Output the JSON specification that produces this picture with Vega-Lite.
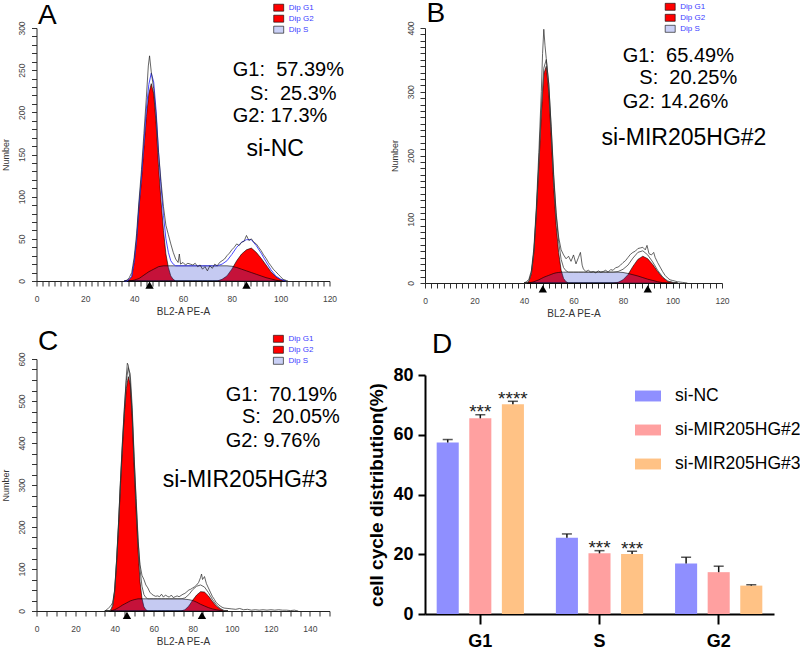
{
 "$schema": "https://vega.github.io/schema/vega-lite/v6.json",
 "padding": {"left": 1.5, "top": 0, "right": 0, "bottom": 0},
 "config": {"font": "Liberation Sans", "view": {"stroke": null}, "axis": {"grid": false}},
 "datasets": {
  "A": [
   {"v":36,"G1":0,"S":0,"G2":0,"fit":0},{"v":37,"G1":0,"S":0,"G2":0,"fit":0},{"v":38,"G1":2,"S":0,"G2":0,"fit":2},{"v":39,"G1":5,"S":0.5,"G2":0,"fit":5.5},{"v":40,"G1":22,"S":1,"G2":0,"fit":23},{"v":41,"G1":48,"S":2,"G2":0,"fit":50},{"v":42,"G1":88,"S":3,"G2":0,"fit":91},{"v":43,"G1":120,"S":5,"G2":0,"fit":125},{"v":44,"G1":158,"S":7,"G2":0,"fit":165},{"v":45,"G1":195,"S":9,"G2":0,"fit":204},{"v":46,"G1":222,"S":11,"G2":0,"fit":233},{"v":47,"G1":234,"S":12.5,"G2":0,"fit":246.5},{"v":48,"G1":222,"S":14,"G2":0,"fit":236},{"v":49,"G1":186,"S":15.5,"G2":0,"fit":201.5},{"v":50,"G1":135,"S":17,"G2":0,"fit":152},{"v":51,"G1":95,"S":17.5,"G2":0,"fit":112.5},{"v":52,"G1":60,"S":18,"G2":0,"fit":78},{"v":53,"G1":32,"S":18,"G2":0,"fit":50},{"v":54,"G1":16,"S":18,"G2":0,"fit":34},{"v":55,"G1":6,"S":18,"G2":0,"fit":24},{"v":56,"G1":2,"S":18,"G2":0,"fit":20},{"v":57,"G1":0,"S":18,"G2":0,"fit":18},{"v":58,"G1":0,"S":18,"G2":0,"fit":18},{"v":60,"G1":0,"S":18,"G2":0,"fit":18},{"v":62,"G1":0,"S":18,"G2":0,"fit":18},{"v":64,"G1":0,"S":18,"G2":0,"fit":18},{"v":66,"G1":0,"S":18,"G2":0,"fit":18},{"v":68,"G1":0,"S":18,"G2":0,"fit":18},{"v":70,"G1":0,"S":18,"G2":0,"fit":18},{"v":72,"G1":0,"S":18,"G2":0,"fit":18},{"v":74,"G1":0,"S":18,"G2":0,"fit":18},{"v":76,"G1":0,"S":18,"G2":2,"fit":20},{"v":78,"G1":0,"S":18,"G2":6,"fit":24},{"v":80,"G1":0,"S":17.5,"G2":14,"fit":31.5},{"v":82,"G1":0,"S":16,"G2":24,"fit":40},{"v":84,"G1":0,"S":14,"G2":32,"fit":46},{"v":86,"G1":0,"S":12,"G2":37,"fit":49},{"v":88,"G1":0,"S":10,"G2":39,"fit":49},{"v":90,"G1":0,"S":8,"G2":34,"fit":42},{"v":92,"G1":0,"S":6,"G2":27,"fit":33},{"v":94,"G1":0,"S":4,"G2":19,"fit":23},{"v":96,"G1":0,"S":2.5,"G2":11,"fit":13.5},{"v":98,"G1":0,"S":1,"G2":5,"fit":6},{"v":100,"G1":0,"S":0,"G2":2,"fit":2},{"v":102,"G1":0,"S":0,"G2":0,"fit":0}
  ],
  "A_raw": [
   {"v":36,"n":0},{"v":37,"n":1},{"v":38,"n":4},{"v":39,"n":10},{"v":40,"n":28},{"v":41,"n":56},{"v":42,"n":96},{"v":43,"n":132},{"v":44,"n":175},{"v":45,"n":218},{"v":45.8,"n":255},{"v":46.3,"n":267},{"v":47,"n":248},{"v":48,"n":228},{"v":49,"n":196},{"v":50,"n":152},{"v":51,"n":118},{"v":52,"n":88},{"v":53,"n":66},{"v":54,"n":55},{"v":55,"n":44},{"v":56,"n":34},{"v":57,"n":26},{"v":58,"n":22},{"v":58.5,"n":32},{"v":59,"n":20},{"v":60,"n":22},{"v":61,"n":19},{"v":62,"n":21},{"v":63,"n":20},{"v":64,"n":19},{"v":65,"n":21},{"v":66,"n":17},{"v":67,"n":19},{"v":68,"n":14},{"v":69,"n":17},{"v":70,"n":12},{"v":71,"n":18},{"v":72,"n":15},{"v":73,"n":20},{"v":74,"n":18},{"v":75,"n":22},{"v":76,"n":24},{"v":77,"n":26},{"v":78,"n":30},{"v":79,"n":33},{"v":80,"n":37},{"v":81,"n":40},{"v":82,"n":44},{"v":83,"n":42},{"v":84,"n":46},{"v":85,"n":47},{"v":86,"n":54},{"v":87,"n":48},{"v":88,"n":50},{"v":89,"n":46},{"v":90,"n":44},{"v":91,"n":40},{"v":92,"n":36},{"v":93,"n":31},{"v":94,"n":27},{"v":95,"n":22},{"v":96,"n":18},{"v":97,"n":14},{"v":98,"n":11},{"v":99,"n":8},{"v":100,"n":5},{"v":101,"n":2},{"v":102,"n":1},{"v":103,"n":0}
  ],
  "A_tri": [{"v":46.3,"n":-5},{"v":86,"n":-5}],
  "A_txt": [
   {"v":80.4,"n":250,"t":"G1:\u00a0\u00a057.39%","kind":"pct"},
   {"v":87.4,"n":222.3,"t":"S:\u00a0\u00a025.3%","kind":"pct"},
   {"v":80.4,"n":195.3,"t":"G2: 17.3%","kind":"pct"},
   {"v":86,"n":156.5,"t":"si-NC","kind":"name"}
  ],
  "B": [
   {"v":40,"G1":0,"S":0,"G2":0,"fit":0},{"v":41,"G1":0,"S":0,"G2":0,"fit":0},{"v":42,"G1":3,"S":0,"G2":0,"fit":3},{"v":43,"G1":15,"S":1,"G2":0,"fit":16},{"v":44,"G1":48,"S":2,"G2":0,"fit":50},{"v":45,"G1":110,"S":3.5,"G2":0,"fit":113.5},{"v":46,"G1":184,"S":5,"G2":0,"fit":189},{"v":47,"G1":265,"S":7,"G2":0,"fit":272},{"v":48,"G1":328,"S":9,"G2":0,"fit":337},{"v":49,"G1":340,"S":10.5,"G2":0,"fit":350.5},{"v":50,"G1":300,"S":12,"G2":0,"fit":312},{"v":51,"G1":228,"S":13.5,"G2":0,"fit":241.5},{"v":52,"G1":150,"S":15,"G2":0,"fit":165},{"v":53,"G1":90,"S":16,"G2":0,"fit":106},{"v":54,"G1":48,"S":16.5,"G2":0,"fit":64.5},{"v":55,"G1":20,"S":17,"G2":0,"fit":37},{"v":56,"G1":7,"S":17,"G2":0,"fit":24},{"v":57,"G1":2,"S":17,"G2":0,"fit":19},{"v":58,"G1":0,"S":17,"G2":0,"fit":17},{"v":60,"G1":0,"S":17,"G2":0,"fit":17},{"v":62,"G1":0,"S":17,"G2":0,"fit":17},{"v":64,"G1":0,"S":17,"G2":0,"fit":17},{"v":66,"G1":0,"S":17,"G2":0,"fit":17},{"v":68,"G1":0,"S":17,"G2":0,"fit":17},{"v":70,"G1":0,"S":17,"G2":0,"fit":17},{"v":72,"G1":0,"S":17,"G2":0,"fit":17},{"v":74,"G1":0,"S":17,"G2":0,"fit":17},{"v":76,"G1":0,"S":17,"G2":0,"fit":17},{"v":78,"G1":0,"S":17,"G2":1,"fit":18},{"v":80,"G1":0,"S":16.5,"G2":5,"fit":21.5},{"v":82,"G1":0,"S":15,"G2":13,"fit":28},{"v":84,"G1":0,"S":13,"G2":26,"fit":39},{"v":86,"G1":0,"S":11,"G2":37,"fit":48},{"v":88,"G1":0,"S":8.5,"G2":42,"fit":50.5},{"v":90,"G1":0,"S":6,"G2":38,"fit":44},{"v":92,"G1":0,"S":4,"G2":29,"fit":33},{"v":94,"G1":0,"S":2,"G2":18,"fit":20},{"v":96,"G1":0,"S":0.5,"G2":9,"fit":9.5},{"v":98,"G1":0,"S":0,"G2":3,"fit":3},{"v":100,"G1":0,"S":0,"G2":1,"fit":1},{"v":102,"G1":0,"S":0,"G2":0,"fit":0}
  ],
  "B_raw": [
   {"v":40,"n":0},{"v":41,"n":2},{"v":42,"n":6},{"v":43,"n":20},{"v":44,"n":55},{"v":45,"n":120},{"v":46,"n":205},{"v":47,"n":300},{"v":47.5,"n":360},{"v":48,"n":398},{"v":48.5,"n":372},{"v":49,"n":352},{"v":50,"n":312},{"v":51,"n":245},{"v":52,"n":170},{"v":53,"n":110},{"v":54,"n":72},{"v":55,"n":52},{"v":56,"n":44},{"v":57,"n":38},{"v":58,"n":42},{"v":59,"n":34},{"v":60,"n":44},{"v":61,"n":30},{"v":62,"n":40},{"v":62.8,"n":48},{"v":63.5,"n":28},{"v":64,"n":22},{"v":65,"n":18},{"v":66,"n":20},{"v":67,"n":17},{"v":68,"n":18},{"v":69,"n":16},{"v":70,"n":19},{"v":71,"n":17},{"v":72,"n":18},{"v":73,"n":20},{"v":74,"n":17},{"v":75,"n":21},{"v":76,"n":20},{"v":77,"n":24},{"v":78,"n":25},{"v":79,"n":28},{"v":80,"n":32},{"v":81,"n":35},{"v":82,"n":40},{"v":83,"n":45},{"v":84,"n":48},{"v":85,"n":50},{"v":86,"n":54},{"v":87,"n":55},{"v":88,"n":56},{"v":89,"n":52},{"v":89.7,"n":59},{"v":90.5,"n":46},{"v":91.5,"n":44},{"v":92.4,"n":48},{"v":93,"n":40},{"v":94,"n":32},{"v":95,"n":25},{"v":96,"n":18},{"v":97,"n":12},{"v":98,"n":8},{"v":99,"n":5},{"v":100,"n":4},{"v":101,"n":3},{"v":102,"n":2},{"v":104,"n":1},{"v":106,"n":0}
  ],
  "B_tri": [{"v":47.6,"n":-9.4},{"v":90,"n":-9.4}],
  "B_txt": [
   {"v":79.9,"n":356,"t":"G1:\u00a0\u00a065.49%","kind":"pct"},
   {"v":86.6,"n":321.6,"t":"S:\u00a0\u00a020.25%","kind":"pct"},
   {"v":79.9,"n":283.6,"t":"G2: 14.26%","kind":"pct"},
   {"v":71.3,"n":227,"t":"si-MIR205HG#2","kind":"name"}
  ],
  "C": [
   {"v":35,"G1":0,"S":0,"G2":0,"fit":0},{"v":36,"G1":0,"S":0,"G2":0,"fit":0},{"v":37,"G1":0,"S":0,"G2":0,"fit":0},{"v":38,"G1":2,"S":0,"G2":0,"fit":2},{"v":39,"G1":12,"S":1.5,"G2":0,"fit":13.5},{"v":40,"G1":45,"S":3,"G2":0,"fit":48},{"v":41,"G1":115,"S":5.5,"G2":0,"fit":120.5},{"v":42,"G1":200,"S":8,"G2":0,"fit":208},{"v":43,"G1":300,"S":11,"G2":0,"fit":311},{"v":44,"G1":390,"S":14,"G2":0,"fit":404},{"v":45,"G1":470,"S":16.5,"G2":0,"fit":486.5},{"v":46,"G1":530,"S":19,"G2":0,"fit":549},{"v":47,"G1":558,"S":21.5,"G2":0,"fit":579.5},{"v":48,"G1":540,"S":24,"G2":0,"fit":564},{"v":49,"G1":460,"S":25.5,"G2":0,"fit":485.5},{"v":50,"G1":340,"S":27,"G2":0,"fit":367},{"v":51,"G1":240,"S":28,"G2":0,"fit":268},{"v":52,"G1":145,"S":29,"G2":0,"fit":174},{"v":53,"G1":70,"S":29,"G2":0,"fit":99},{"v":54,"G1":30,"S":29,"G2":0,"fit":59},{"v":55,"G1":10,"S":29,"G2":0,"fit":39},{"v":56,"G1":3,"S":29,"G2":0,"fit":32},{"v":57,"G1":0,"S":29,"G2":0,"fit":29},{"v":58,"G1":0,"S":29,"G2":0,"fit":29},{"v":60,"G1":0,"S":29,"G2":0,"fit":29},{"v":62,"G1":0,"S":29,"G2":0,"fit":29},{"v":64,"G1":0,"S":29,"G2":0,"fit":29},{"v":66,"G1":0,"S":29,"G2":0,"fit":29},{"v":68,"G1":0,"S":29,"G2":0,"fit":29},{"v":70,"G1":0,"S":29,"G2":0,"fit":29},{"v":72,"G1":0,"S":29,"G2":0,"fit":29},{"v":74,"G1":0,"S":29,"G2":0,"fit":29},{"v":76,"G1":0,"S":28,"G2":3,"fit":31},{"v":78,"G1":0,"S":27,"G2":12,"fit":39},{"v":80,"G1":0,"S":25,"G2":26,"fit":51},{"v":82,"G1":0,"S":21,"G2":38,"fit":59},{"v":84,"G1":0,"S":16,"G2":46,"fit":62},{"v":86,"G1":0,"S":12,"G2":45,"fit":57},{"v":88,"G1":0,"S":8,"G2":36,"fit":44},{"v":90,"G1":0,"S":5,"G2":23,"fit":28},{"v":92,"G1":0,"S":3,"G2":12,"fit":15},{"v":94,"G1":0,"S":1.5,"G2":5,"fit":6.5},{"v":96,"G1":0,"S":0,"G2":1,"fit":1},{"v":98,"G1":0,"S":0,"G2":0,"fit":0}
  ],
  "C_raw": [
   {"v":35,"n":0},{"v":36,"n":3},{"v":37,"n":8},{"v":38,"n":12},{"v":39,"n":20},{"v":40,"n":50},{"v":41,"n":120},{"v":42,"n":210},{"v":43,"n":310},{"v":44,"n":400},{"v":45,"n":480},{"v":46,"n":560},{"v":46.5,"n":590},{"v":47,"n":585},{"v":47.5,"n":565},{"v":48,"n":545},{"v":49,"n":470},{"v":50,"n":360},{"v":51,"n":260},{"v":52,"n":165},{"v":53,"n":110},{"v":54,"n":85},{"v":55,"n":75},{"v":56,"n":62},{"v":57,"n":55},{"v":58,"n":45},{"v":59,"n":40},{"v":60,"n":37},{"v":61,"n":35},{"v":62,"n":36},{"v":63,"n":34},{"v":64,"n":40},{"v":65,"n":33},{"v":66,"n":38},{"v":67,"n":35},{"v":68,"n":33},{"v":69,"n":38},{"v":70,"n":32},{"v":71,"n":34},{"v":72,"n":36},{"v":73,"n":34},{"v":74,"n":37},{"v":75,"n":40},{"v":76,"n":42},{"v":77,"n":46},{"v":78,"n":50},{"v":79,"n":52},{"v":80,"n":55},{"v":81,"n":58},{"v":82,"n":62},{"v":83,"n":68},{"v":84,"n":80},{"v":84.5,"n":88},{"v":85,"n":75},{"v":86,"n":82},{"v":87,"n":65},{"v":88,"n":55},{"v":89,"n":45},{"v":90,"n":35},{"v":91,"n":28},{"v":92,"n":20},{"v":93,"n":16},{"v":94,"n":12},{"v":95,"n":9},{"v":96,"n":7},{"v":98,"n":6},{"v":100,"n":5},{"v":102,"n":4},{"v":104,"n":6},{"v":106,"n":3},{"v":108,"n":4},{"v":110,"n":2},{"v":112,"n":3},{"v":114,"n":2},{"v":116,"n":3},{"v":118,"n":2},{"v":120,"n":3},{"v":122,"n":2},{"v":124,"n":3},{"v":126,"n":2},{"v":128,"n":2},{"v":130,"n":1},{"v":132,"n":2},{"v":134,"n":0}
  ],
  "C_tri": [{"v":46.3,"n":-10.5},{"v":84.7,"n":-10.5}],
  "C_txt": [
   {"v":96.9,"n":514.9,"t":"G1:\u00a0\u00a070.19%","kind":"pct"},
   {"v":105.2,"n":461.9,"t":"S:\u00a0\u00a020.05%","kind":"pct"},
   {"v":96.9,"n":405.9,"t":"G2: 9.76%","kind":"pct"},
   {"v":64.6,"n":312.8,"t":"si-MIR205HG#3","kind":"name"}
  ],
  "D": [
   {"phase":"G1","group":"si-NC","value":57.4,"err":58.4,"sig":""},
   {"phase":"G1","group":"si-MIR205HG#2","value":65.5,"err":66.7,"sig":"***"},
   {"phase":"G1","group":"si-MIR205HG#3","value":70.2,"err":71.2,"sig":"****"},
   {"phase":"S","group":"si-NC","value":25.5,"err":26.8,"sig":""},
   {"phase":"S","group":"si-MIR205HG#2","value":20.3,"err":21.2,"sig":"***"},
   {"phase":"S","group":"si-MIR205HG#3","value":20.1,"err":21.0,"sig":"***"},
   {"phase":"G2","group":"si-NC","value":16.9,"err":19.0,"sig":""},
   {"phase":"G2","group":"si-MIR205HG#2","value":14.0,"err":16.0,"sig":""},
   {"phase":"G2","group":"si-MIR205HG#3","value":9.5,"err":9.8,"sig":""}
  ]
 },
 "columns": 2,
 "spacing": {"row": 76, "column": 95.5},
 "bounds": "flush",
 "resolve": {"scale": {"color": "independent"}, "legend": {"color": "independent"}},
 "concat": [
    {
     "width": 293, "height": 253,
     "title": {"text": "A", "anchor": "start", "frame": "group", "fontSize": 28, "fontWeight": "normal", "color": "#000", "offset": -27.6, "dx": 1.5},
     "encoding": {
      "x": {"field": "v", "type": "quantitative", "title": "BL2-A PE-A", "scale": {"domain": [0, 120], "nice": false},
       "axis": {"values": [0,2.5,5,7.5,10,12.5,15,17.5,20,22.5,25,27.5,30,32.5,35,37.5,40,42.5,45,47.5,50,52.5,55,57.5,60,62.5,65,67.5,70,72.5,75,77.5,80,82.5,85,87.5,90,92.5,95,97.5,100,102.5,105,107.5,110,112.5,115,117.5,120], "labelExpr": "datum.value % 20 === 0 ? datum.label : ''", "labelOverlap": false, "labelFlush": false, "tickSize": 5, "tickColor": "#333", "domainColor": "#222", "labelFontSize": 8.5, "labelColor": "#444", "labelPadding": 8, "titleFontSize": 10, "titleFontWeight": "normal", "titleColor": "#333", "titlePadding": 4}},
      "y": {"field": "n", "type": "quantitative", "stack": null, "title": "Number", "scale": {"domain": [0, 300], "nice": false},
       "axis": {"values": [0,10,20,30,40,50,60,70,80,90,100,110,120,130,140,150,160,170,180,190,200,210,220,230,240,250,260,270,280,290,300], "labelExpr": "datum.value % 50 === 0 ? datum.label : ''", "labelOverlap": false, "labelFlush": false, "labelAngle": 270, "labelAlign": "center", "labelBaseline": "bottom", "tickSize": 5, "tickColor": "#333", "domainColor": "#222", "labelFontSize": 8.5, "labelColor": "#444", "labelPadding": 5, "titleFontSize": 9, "titleFontWeight": "normal", "titleColor": "#333", "titlePadding": 7}}
     },
     "layer": [
      {"data": {"name": "A"}, "transform": [{"fold": ["G1", "G2"], "as": ["c", "n"]}], "mark": {"type": "area", "stroke": "#000", "strokeWidth": 0.6},
       "encoding": {"color": {"field": "c", "type": "nominal", "scale": {"domain": ["G1", "G2", "S"], "range": ["#ff0000", "#ff0000", "#cad0f6"]},
        "legend": {"orient": "none", "legendX": 236.7, "legendY": -25.8, "title": null, "padding": 0, "symbolType": "M-1,-0.7H1V0.7H-1Z", "symbolSize": 100, "symbolStrokeColor": "#000", "symbolStrokeWidth": 0.6, "symbolOpacity": 1, "labelFontSize": 8, "labelColor": "#3c3cff", "labelOffset": 4.6, "rowPadding": -1, "labelExpr": "'Dip ' + datum.label"}}}},
      {"data": {"name": "A"}, "transform": [{"fold": ["S"], "as": ["c", "n"]}], "mark": {"type": "area", "color": "#2f3fd0", "opacity": 0.28}},
      {"data": {"name": "A"}, "transform": [{"fold": ["S"], "as": ["c", "n"]}], "mark": {"type": "line", "color": "#000", "strokeWidth": 0.6}},
      {"data": {"name": "A"}, "transform": [{"fold": ["fit"], "as": ["c", "n"]}], "mark": {"type": "line", "color": "#3535ff", "strokeWidth": 0.9}},
      {"data": {"name": "A_raw"}, "mark": {"type": "line", "color": "#222", "strokeWidth": 0.7}},
      {"data": {"name": "A_tri"}, "mark": {"type": "point", "shape": "triangle-up", "filled": true, "color": "#000", "size": 70, "opacity": 1}},
      {"data": {"name": "A_txt"}, "transform": [{"filter": "datum.kind === 'pct'"}], "mark": {"type": "text", "align": "left", "baseline": "middle", "fontSize": 20, "color": "#000"}, "encoding": {"text": {"field": "t"}}},
      {"data": {"name": "A_txt"}, "transform": [{"filter": "datum.kind === 'name'"}], "mark": {"type": "text", "align": "left", "baseline": "middle", "fontSize": 23, "color": "#000"}, "encoding": {"text": {"field": "t"}}}
     ]
    },
    {
     "width": 297, "height": 255,
     "title": {"text": "B", "anchor": "start", "frame": "group", "fontSize": 28, "fontWeight": "normal", "color": "#000", "offset": -26.8, "dx": 1.5},
     "encoding": {
      "x": {"field": "v", "type": "quantitative", "title": "BL2-A PE-A", "scale": {"domain": [0, 120], "nice": false},
       "axis": {"values": [0,2.5,5,7.5,10,12.5,15,17.5,20,22.5,25,27.5,30,32.5,35,37.5,40,42.5,45,47.5,50,52.5,55,57.5,60,62.5,65,67.5,70,72.5,75,77.5,80,82.5,85,87.5,90,92.5,95,97.5,100,102.5,105,107.5,110,112.5,115,117.5,120], "labelExpr": "datum.value % 20 === 0 ? datum.label : ''", "labelOverlap": false, "labelFlush": false, "tickSize": 5, "tickColor": "#333", "domainColor": "#222", "labelFontSize": 8.5, "labelColor": "#444", "labelPadding": 8, "titleFontSize": 10, "titleFontWeight": "normal", "titleColor": "#333", "titlePadding": 4}},
      "y": {"field": "n", "type": "quantitative", "stack": null, "title": "Number", "scale": {"domain": [0, 400], "nice": false},
       "axis": {"values": [0,10,20,30,40,50,60,70,80,90,100,110,120,130,140,150,160,170,180,190,200,210,220,230,240,250,260,270,280,290,300,310,320,330,340,350,360,370,380,390,400], "labelExpr": "datum.value % 100 === 0 ? datum.label : ''", "labelOverlap": false, "labelFlush": false, "labelAngle": 270, "labelAlign": "center", "labelBaseline": "bottom", "tickSize": 5, "tickColor": "#333", "domainColor": "#222", "labelFontSize": 8.5, "labelColor": "#444", "labelPadding": 5, "titleFontSize": 9, "titleFontWeight": "normal", "titleColor": "#333", "titlePadding": 7}}
     },
     "layer": [
      {"data": {"name": "B"}, "transform": [{"fold": ["G1", "G2"], "as": ["c", "n"]}], "mark": {"type": "area", "stroke": "#000", "strokeWidth": 0.6},
       "encoding": {"color": {"field": "c", "type": "nominal", "scale": {"domain": ["G1", "G2", "S"], "range": ["#ff0000", "#ff0000", "#cad0f6"]},
        "legend": {"orient": "none", "legendX": 239.7, "legendY": -26.7, "title": null, "padding": 0, "symbolType": "M-1,-0.7H1V0.7H-1Z", "symbolSize": 100, "symbolStrokeColor": "#000", "symbolStrokeWidth": 0.6, "symbolOpacity": 1, "labelFontSize": 8, "labelColor": "#3c3cff", "labelOffset": 4.6, "rowPadding": -1, "labelExpr": "'Dip ' + datum.label"}}}},
      {"data": {"name": "B"}, "transform": [{"fold": ["S"], "as": ["c", "n"]}], "mark": {"type": "area", "color": "#2f3fd0", "opacity": 0.28}},
      {"data": {"name": "B"}, "transform": [{"fold": ["S"], "as": ["c", "n"]}], "mark": {"type": "line", "color": "#000", "strokeWidth": 0.6}},
      {"data": {"name": "B"}, "transform": [{"fold": ["fit"], "as": ["c", "n"]}], "mark": {"type": "line", "color": "#555", "strokeWidth": 0.9}},
      {"data": {"name": "B_raw"}, "mark": {"type": "line", "color": "#222", "strokeWidth": 0.7}},
      {"data": {"name": "B_tri"}, "mark": {"type": "point", "shape": "triangle-up", "filled": true, "color": "#000", "size": 70, "opacity": 1}},
      {"data": {"name": "B_txt"}, "transform": [{"filter": "datum.kind === 'pct'"}], "mark": {"type": "text", "align": "left", "baseline": "middle", "fontSize": 20, "color": "#000"}, "encoding": {"text": {"field": "t"}}},
      {"data": {"name": "B_txt"}, "transform": [{"filter": "datum.kind === 'name'"}], "mark": {"type": "text", "align": "left", "baseline": "middle", "fontSize": 23, "color": "#000"}, "encoding": {"text": {"field": "t"}}}
     ]
    },
    {
     "width": 293, "height": 252,
     "title": {"text": "C", "anchor": "start", "frame": "group", "fontSize": 28, "fontWeight": "normal", "color": "#000", "offset": -22.8, "dx": 1.5},
     "encoding": {
      "x": {"field": "v", "type": "quantitative", "title": "BL2-A PE-A", "scale": {"domain": [0, 150], "nice": false},
       "axis": {"values": [0,5,10,15,20,25,30,35,40,45,50,55,60,65,70,75,80,85,90,95,100,105,110,115,120,125,130,135,140,145,150], "labelExpr": "datum.value % 20 === 0 ? datum.label : ''", "labelOverlap": false, "labelFlush": false, "tickSize": 5, "tickColor": "#333", "domainColor": "#222", "labelFontSize": 8.5, "labelColor": "#444", "labelPadding": 8, "titleFontSize": 10, "titleFontWeight": "normal", "titleColor": "#333", "titlePadding": 4}},
      "y": {"field": "n", "type": "quantitative", "stack": null, "title": "Number", "scale": {"domain": [0, 600], "nice": false},
       "axis": {"values": [0,25,50,75,100,125,150,175,200,225,250,275,300,325,350,375,400,425,450,475,500,525,550,575,600], "labelExpr": "datum.value % 100 === 0 ? datum.label : ''", "labelOverlap": false, "labelFlush": false, "labelAngle": 270, "labelAlign": "center", "labelBaseline": "bottom", "tickSize": 5, "tickColor": "#333", "domainColor": "#222", "labelFontSize": 8.5, "labelColor": "#444", "labelPadding": 5, "titleFontSize": 9, "titleFontWeight": "normal", "titleColor": "#333", "titlePadding": 7}}
     },
     "layer": [
      {"data": {"name": "C"}, "transform": [{"fold": ["G1", "G2"], "as": ["c", "n"]}], "mark": {"type": "area", "stroke": "#000", "strokeWidth": 0.6},
       "encoding": {"color": {"field": "c", "type": "nominal", "scale": {"domain": ["G1", "G2", "S"], "range": ["#ff0000", "#ff0000", "#cad0f6"]},
        "legend": {"orient": "none", "legendX": 236.4, "legendY": -25.7, "title": null, "padding": 0, "symbolType": "M-1,-0.7H1V0.7H-1Z", "symbolSize": 100, "symbolStrokeColor": "#000", "symbolStrokeWidth": 0.6, "symbolOpacity": 1, "labelFontSize": 8, "labelColor": "#3c3cff", "labelOffset": 4.6, "rowPadding": -1, "labelExpr": "'Dip ' + datum.label"}}}},
      {"data": {"name": "C"}, "transform": [{"fold": ["S"], "as": ["c", "n"]}], "mark": {"type": "area", "color": "#2f3fd0", "opacity": 0.28}},
      {"data": {"name": "C"}, "transform": [{"fold": ["S"], "as": ["c", "n"]}], "mark": {"type": "line", "color": "#000", "strokeWidth": 0.6}},
      {"data": {"name": "C"}, "transform": [{"fold": ["fit"], "as": ["c", "n"]}], "mark": {"type": "line", "color": "#555", "strokeWidth": 0.9}},
      {"data": {"name": "C_raw"}, "mark": {"type": "line", "color": "#222", "strokeWidth": 0.7}},
      {"data": {"name": "C_tri"}, "mark": {"type": "point", "shape": "triangle-up", "filled": true, "color": "#000", "size": 70, "opacity": 1}},
      {"data": {"name": "C_txt"}, "transform": [{"filter": "datum.kind === 'pct'"}], "mark": {"type": "text", "align": "left", "baseline": "middle", "fontSize": 20, "color": "#000"}, "encoding": {"text": {"field": "t"}}},
      {"data": {"name": "C_txt"}, "transform": [{"filter": "datum.kind === 'name'"}], "mark": {"type": "text", "align": "left", "baseline": "middle", "fontSize": 23, "color": "#000"}, "encoding": {"text": {"field": "t"}}}
     ]
    },
    {
     "width": 349, "height": 255,
     "title": {"text": "D", "anchor": "start", "frame": "group", "fontSize": 28, "fontWeight": "normal", "color": "#000", "offset": 0, "dx": 7},
     "data": {"name": "D"},
     "encoding": {
      "x": {"field": "phase", "type": "nominal", "sort": ["G1", "S", "G2"], "title": null, "scale": {"paddingInner": 0.268, "paddingOuter": 0.098},
       "axis": {"labelAngle": 0, "domainWidth": 2, "domainColor": "#000", "tickWidth": 2, "tickSize": 10, "tickColor": "#000", "labelFontSize": 18, "labelFontWeight": "bold", "labelColor": "#000", "labelPadding": 8}},
      "xOffset": {"field": "group", "type": "nominal", "sort": ["si-NC", "si-MIR205HG#2", "si-MIR205HG#3"], "scale": {"paddingInner": 0.323, "paddingOuter": 0}}
     },
     "layer": [
      {"mark": {"type": "bar"},
       "encoding": {
        "y": {"field": "value", "type": "quantitative", "title": "cell cycle distribution(%)", "scale": {"domain": [0, 80], "nice": false, "range": [255, 16]},
         "axis": {"title": "cell cycle distribution(%)", "values": [0, 20, 40, 60, 80], "domainWidth": 2, "domainColor": "#000", "tickWidth": 2, "tickSize": 7, "tickColor": "#000", "labelFontSize": 18, "labelFontWeight": "bold", "labelColor": "#000", "labelPadding": 5, "titleFontSize": 19, "titleFontWeight": "bold", "titleColor": "#000", "titlePadding": 6}},
        "color": {"field": "group", "type": "nominal", "sort": ["si-NC", "si-MIR205HG#2", "si-MIR205HG#3"], "scale": {"domain": ["si-NC", "si-MIR205HG#2", "si-MIR205HG#3"], "range": ["#8f8fff", "#ffa0a0", "#ffc285"]},
         "legend": {"orient": "none", "legendX": 210, "legendY": 24, "title": null, "padding": 0, "symbolType": "M-1,-0.42H1V0.42H-1Z", "symbolSize": 676, "symbolStrokeWidth": 0, "symbolOpacity": 1, "labelFontSize": 17.5, "labelColor": "#000", "labelOffset": 14, "rowPadding": 12}}
       }},
      {"mark": {"type": "rule", "color": "#111", "strokeWidth": 1.5},
       "encoding": {"y": {"field": "value", "type": "quantitative", "title": "cell cycle distribution(%)"}, "y2": {"field": "err"}}},
      {"mark": {"type": "tick", "color": "#111", "thickness": 1.5, "size": 10},
       "encoding": {"y": {"field": "err", "type": "quantitative", "title": "cell cycle distribution(%)"}}},
      {"mark": {"type": "text", "fontSize": 19, "dy": 3.4, "baseline": "alphabetic", "color": "#222"},
       "encoding": {"y": {"field": "err", "type": "quantitative", "title": "cell cycle distribution(%)"}, "text": {"field": "sig"}}}
     ]
    }
 ]
}
